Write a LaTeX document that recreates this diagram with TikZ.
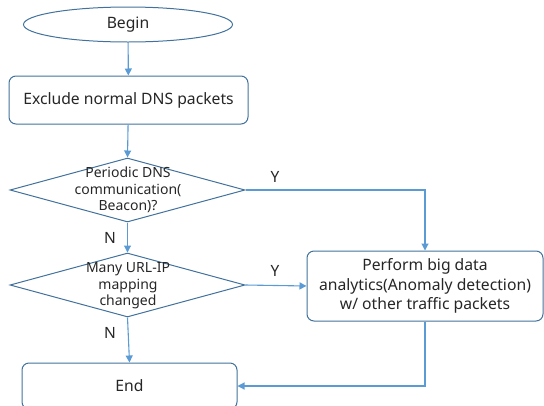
\documentclass[tikz,border=0pt]{standalone}
\usepackage{fontspec}
\setmainfont{Noto Sans}
\usepackage{tikz}
\usetikzlibrary{arrows.meta,shapes.geometric}
\definecolor{lineblue}{HTML}{5B9BD5}
\definecolor{boxblue}{HTML}{41719C}
\definecolor{txtgray}{HTML}{262626}

\begin{document}
\begin{tikzpicture}[x=1pt,y=-1pt,
    box/.style={draw=boxblue,line width=1pt,rounded corners=7pt,text=txtgray,align=center,font=\fontsize{15.7}{19.5}\selectfont},
    dia/.style={draw=boxblue,line width=1pt,diamond,inner sep=0pt},
    qtext/.style={text=txtgray,align=center,font=\fontsize{14}{16.5}\selectfont},
    yn/.style={text=txtgray,font=\fontsize{15.5}{17}\selectfont},
    flow/.style={draw=lineblue,line width=1.1pt,-{Triangle[width=7pt,length=7pt]}}]
    \clip(0,0)rectangle(544,405);\useasboundingbox(0,0)rectangle(544,405);

    \node[draw=boxblue,line width=1pt,ellipse,minimum width=209,minimum height=35,text=txtgray,font=\fontsize{15.7}{17}\selectfont](begin)at(128,24.5){Begin};
    \node[box,minimum width=239,minimum height=48](exclude)at(128.5,100){Exclude normal DNS packets};

    \node[dia,minimum width=235,minimum height=64](beacon)at(127.5,190){};
    \node[qtext](beacontext)at(128,190){Periodic DNS\\communication(\\Beacon)?};
    \node[dia,minimum width=235,minimum height=64](mapping)at(127.5,285){};
    \node[qtext](mappingtext)at(128,286){Many URL-IP\\mapping\\changed};

    \node[box,minimum width=236,minimum height=70](analytics)at(425,286){Perform big data\\analytics(Anomaly detection)\\w/ other traffic packets};
    \node[box,minimum width=215,minimum height=46](end)at(129.5,386){End};

    \node[yn](y1)at(275,177){Y};\node[yn](y2)at(275,271){Y};
    \node[yn](n1)at(110,238){N};\node[yn](n2)at(110,333){N};

    \draw[flow](begin)--(exclude);
    \draw[flow](exclude)--(beacon.north);
    \draw[flow](beacon.south)--(mapping.north);
    \draw[flow](beacon.east)-|(analytics.north);
    \draw[flow](mapping.east)--(analytics.west);
    \draw[flow](mapping.south)--(end.north);
    \draw[flow](analytics.south)|-(end.east);
\end{tikzpicture}
\end{document}
